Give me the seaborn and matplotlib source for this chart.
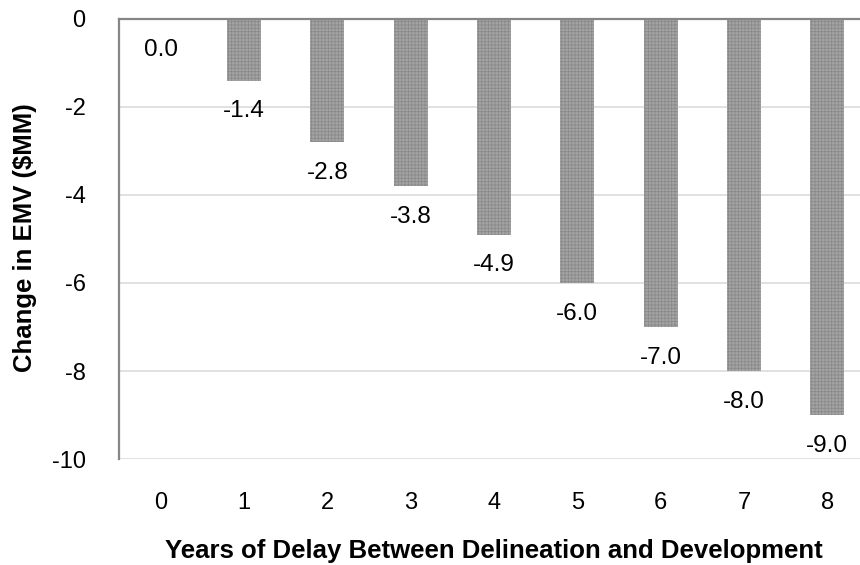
import matplotlib
matplotlib.use("Agg")
import matplotlib.pyplot as plt
import seaborn as sns
import pandas as pd

# Years of delay (categories) and the resulting change in EMV, $MM
years = ["0", "1", "2", "3", "4", "5", "6", "7", "8"]
emv_change = [0.0, -1.4, -2.8, -3.8, -4.9, -6.0, -7.0, -8.0, -9.0]
y_ticks = [0, -2, -4, -6, -8, -10]
y_tick_labels = ["0", "-2", "-4", "-6", "-8", "-10"]

sns.set_theme(style="white")
plt.rcParams["font.family"] = ["Liberation Sans", "DejaVu Sans"]
plt.rcParams["hatch.linewidth"] = 0.6

df = pd.DataFrame({"years": years, "change": emv_change})

fig = plt.figure(figsize=(8.6, 5.65), dpi=100)
ax = fig.add_axes([0.1384, 0.1876, 0.8721, 0.7788])

sns.barplot(data=df, x="years", y="change", order=years, width=0.41,
            color="#a4a4a4", saturation=1, ax=ax, zorder=3)

# fine crosshatch texture on the bars
for bar in ax.patches:
    bar.set_hatch("+++++")
    bar.set_edgecolor("#8a8a8a")
    bar.set_linewidth(0)

ax.set_xlim(-0.5, 8.5)
ax.set_ylim(-10, 0)
ax.set_yticks(y_ticks)
ax.set_yticklabels(y_tick_labels)

ax.set_axisbelow(True)
ax.yaxis.grid(True, color="#d9d9d9", linewidth=1.1)
ax.xaxis.grid(False)

for side in ("bottom", "right"):
    ax.spines[side].set_visible(False)
for side in ("top", "left"):
    ax.spines[side].set_visible(True)
    ax.spines[side].set_color("#868686")
    ax.spines[side].set_linewidth(1.6)
    ax.spines[side].set_zorder(4)

ax.tick_params(axis="both", length=0, labelsize=17, colors="black")
ax.tick_params(axis="y", pad=24)
ax.tick_params(axis="x", pad=24)

ax.set_xlabel("Years of Delay Between Delineation and Development",
              fontsize=18.5, fontweight="bold", color="black")
ax.set_ylabel("Change in EMV ($MM)", fontsize=18.5, fontweight="bold",
              color="black")
ax.xaxis.set_label_coords(0.5, -0.209)
ax.xaxis.label.set_va("center")
ax.yaxis.set_label_coords(-0.126, 0.503)
ax.yaxis.label.set_va("center")

# value labels just below the end of each bar
for i, v in enumerate(emv_change):
    ax.annotate(f"{v:.1f}", xy=(i, v), xytext=(0, -22),
                textcoords="offset points", ha="center", va="center",
                fontsize=17.5, color="black", zorder=5)

fig.savefig("out.png", dpi=100)
